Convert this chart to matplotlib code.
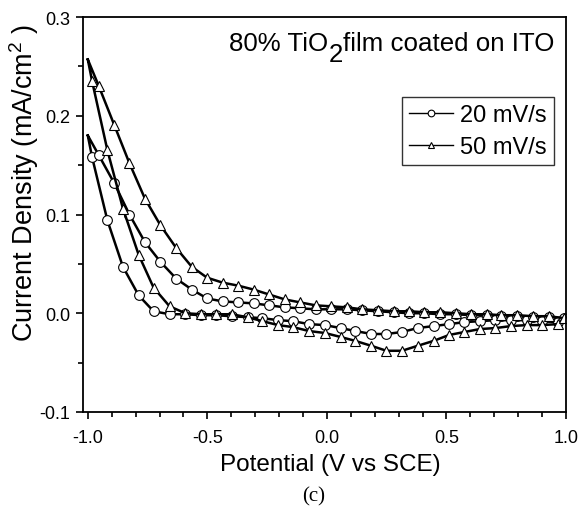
import matplotlib
matplotlib.use("Agg")
import matplotlib.pyplot as plt
from matplotlib.lines import Line2D
from matplotlib.ticker import MultipleLocator, FormatStrFormatter

plt.rcParams['font.family'] = ['Liberation Sans', 'DejaVu Sans']
plt.rcParams['mathtext.fontset'] = 'custom'
plt.rcParams['mathtext.rm'] = 'Liberation Sans'
plt.rcParams['mathtext.it'] = 'Liberation Sans:italic'
plt.rcParams['mathtext.bf'] = 'Liberation Sans:bold'
plt.rcParams['axes.unicode_minus'] = False

# ---- data ----
vertex_potential = -1.0
# forward (lower) branch potentials, V vs SCE
potential_fwd = [-0.982, -0.918, -0.853, -0.787, -0.725, -0.658, -0.592, -0.526,
                 -0.464, -0.399, -0.332, -0.270, -0.204, -0.142, -0.075, -0.008,
                 0.057, 0.119, 0.186, 0.249, 0.314, 0.379, 0.446, 0.511, 0.575,
                 0.640, 0.705, 0.770, 0.836, 0.900, 0.967]
# reverse (upper) branch potentials
potential_rev = [-0.954, -0.890, -0.826, -0.761, -0.696, -0.630, -0.565, -0.501,
                 -0.436, -0.372, -0.307, -0.242, -0.176, -0.112, -0.047, 0.018,
                 0.082, 0.147, 0.214, 0.279, 0.344, 0.408, 0.474, 0.539, 0.603,
                 0.668, 0.730, 0.797, 0.862, 0.928, 0.992]

# 20 mV/s current density (mA/cm2)
j20_vertex = 0.180
j20_fwd = [0.158, 0.094, 0.047, 0.018, 0.002, -0.001, -0.001, -0.002,
           -0.002, -0.003, -0.004, -0.005, -0.007, -0.008, -0.011, -0.012,
           -0.015, -0.018, -0.021, -0.021, -0.019, -0.015, -0.013, -0.011, -0.009,
           -0.008, -0.007, -0.007, -0.007, -0.008, -0.009]
j20_rev = [0.160, 0.132, 0.100, 0.072, 0.052, 0.035, 0.024, 0.015,
           0.012, 0.011, 0.010, 0.008, 0.006, 0.005, 0.004, 0.004,
           0.004, 0.003, 0.002, 0.001, 0.000, 0.000, -0.001, -0.001, -0.002,
           -0.002, -0.003, -0.003, -0.004, -0.004, -0.005]

# 50 mV/s current density (mA/cm2)
j50_vertex = 0.257
j50_fwd = [0.235, 0.165, 0.106, 0.059, 0.026, 0.007, 0.000, -0.001,
           -0.001, -0.001, -0.004, -0.008, -0.012, -0.014, -0.018, -0.020,
           -0.024, -0.028, -0.033, -0.038, -0.038, -0.033, -0.028, -0.022, -0.019,
           -0.016, -0.015, -0.013, -0.012, -0.012, -0.011]
j50_rev = [0.230, 0.191, 0.152, 0.116, 0.089, 0.066, 0.047, 0.036,
           0.031, 0.028, 0.024, 0.019, 0.014, 0.011, 0.008, 0.007,
           0.006, 0.004, 0.003, 0.002, 0.002, 0.001, 0.001, 0.000, -0.001,
           -0.001, -0.002, -0.002, -0.003, -0.003, -0.005]

series_labels = ['20 mV/s', '50 mV/s']
x_ticks = [-1.0, -0.5, 0.0, 0.5, 1.0]
y_ticks = [-0.1, 0.0, 0.1, 0.2, 0.3]

# ---- figure ----
fig = plt.figure(figsize=(5.81, 5.10), dpi=100)
ax = fig.add_axes([0.1429, 0.1902, 0.8313, 0.7745])


def loop(vertex_x, fwd_x, rev_x, vertex_y, fwd_y, rev_y):
    xs = [vertex_x] + list(fwd_x) + list(rev_x)[::-1] + [vertex_x]
    ys = [vertex_y] + list(fwd_y) + list(rev_y)[::-1] + [vertex_y]
    return xs, ys


style = dict(color='black', lw=1.8, mfc='white', mec='black', mew=0.8,
             ms=7.0, markevery=slice(1, -1))
x20, y20 = loop(vertex_potential, potential_fwd, potential_rev, j20_vertex, j20_fwd, j20_rev)
x50, y50 = loop(vertex_potential, potential_fwd, potential_rev, j50_vertex, j50_fwd, j50_rev)
ax.plot(x20, y20, marker='o', **style)
ax.plot(x50, y50, marker='^', **style)

ax.set_xlim(-1.02, 1.0)
ax.set_ylim(-0.1, 0.3)
ax.set_xticks(x_ticks)
ax.set_yticks(y_ticks)
ax.xaxis.set_minor_locator(MultipleLocator(0.1))
ax.yaxis.set_minor_locator(MultipleLocator(0.05))
ax.xaxis.set_major_formatter(FormatStrFormatter('%.1f'))
ax.yaxis.set_major_formatter(FormatStrFormatter('%.1f'))
ax.tick_params(which='both', direction='out', top=False, right=False,
               width=1.2, labelsize=13)
ax.tick_params(axis='x', which='major', pad=7)
ax.tick_params(axis='y', which='major', pad=4)
ax.tick_params(which='major', length=5)
ax.tick_params(which='minor', length=3.5)
for s in ax.spines.values():
    s.set_linewidth(1.3)

ax.set_xlabel('Potential (V vs SCE)', fontsize=17.5)
ax.set_ylabel('Current Density (mA/cm$^2$ )', fontsize=19.5)
ax.xaxis.set_label_coords(0.511, -0.104)
ax.yaxis.set_label_coords(-0.088, 0.582)

# annotation text with full-size lowered subscript
t3 = ax.text(0.975, 0.916, 'film coated on ITO', transform=ax.transAxes,
             ha='right', va='baseline', fontsize=18.6)
t2 = ax.annotate('2', xy=(0, 0), xycoords=t3, xytext=(0, -7.5),
                 textcoords='offset points', ha='right', va='bottom', fontsize=18.6)
t1 = ax.annotate('80% TiO', xy=(0, 0), xycoords=(t2, t3), xytext=(0, 0),
                 textcoords='offset points', ha='right', va='bottom', fontsize=18.6)

handles = [Line2D([], [], color='black', lw=1.0, marker='o', ms=4.8, mfc='white',
                  mec='black', mew=0.8),
           Line2D([], [], color='black', lw=1.0, marker='^', ms=4.8, mfc='white',
                  mec='black', mew=0.8)]
leg = ax.legend(handles, series_labels, loc='upper right', bbox_to_anchor=(0.975, 0.797),
                borderaxespad=0, fontsize=17, frameon=True, fancybox=False,
                borderpad=0.3, handlelength=1.85, handletextpad=0.3,
                labelspacing=0.42)
leg.get_frame().set_edgecolor('black')
leg.get_frame().set_linewidth(1.0)

fig.text(0.54, 0.026, '(c)', ha='center', va='center', fontsize=15,
         family='Liberation Serif')

fig.savefig('out.png', dpi=100)
